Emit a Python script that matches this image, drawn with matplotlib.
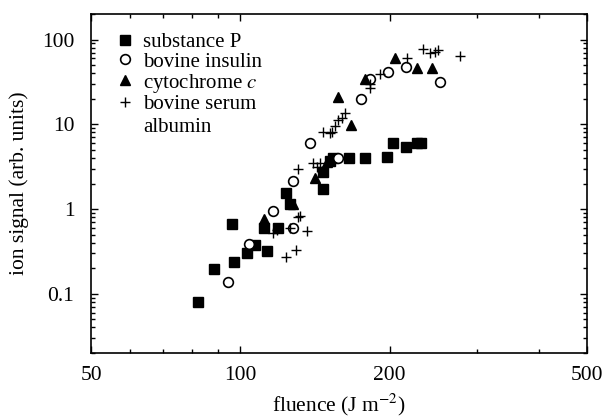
import numpy as np
import matplotlib
matplotlib.use("Agg")
import matplotlib.pyplot as plt
from matplotlib.ticker import LogLocator, NullFormatter, FixedLocator, FixedFormatter

plt.rcParams["font.family"] = ["Liberation Serif", "DejaVu Serif"]
plt.rcParams["mathtext.fontset"] = "stix"

# fluence (J m^-2) vs ion signal (arb. units)
subP_x = [82.2, 88.5, 96.2, 97.1, 103.2, 107.0, 113.0, 111.6, 119.1, 123.6, 125.9,
          146.8, 147.0, 151.7, 153.8, 165.7, 178.4, 197.6, 203.2, 215.8, 227.0, 231.3]
subP_y = [0.079, 0.198, 0.67, 0.239, 0.305, 0.38, 0.32, 0.60, 0.59, 1.56, 1.16,
          1.74, 2.77, 3.73, 4.04, 4.04, 4.0, 4.16, 6.08, 5.45, 6.08, 6.08]

ins_x = [94.5, 104.1, 116.4, 127.7, 127.7, 138.2, 157.3, 175.1, 182.6, 198.5, 215.8, 252.6]
ins_y = [0.139, 0.391, 0.958, 0.60, 2.16, 6.08, 4.04, 20.1, 34.6, 41.9, 48.0, 31.1]

cyt_x = [111.6, 127.7, 141.4, 149.5, 157.3, 167.2, 178.4, 205.1, 227.0, 243.4]
cyt_y = [0.77, 1.16, 2.35, 3.6, 20.7, 9.92, 34.6, 59.7, 45.5, 45.5]

bsa_x = [116.4, 118.6, 123.6, 125.9, 129.5, 132.0, 131.0, 136.3, 130.7, 140.1, 142.7,
         144.9, 146.8, 151.7, 153.0, 155.2, 157.3, 160.0, 162.5, 182.6, 182.6, 191.3,
         216.7, 233.6, 241.3, 247.0, 249.9, 277.3]
bsa_y = [0.526, 0.571, 0.274, 0.60, 0.332, 0.835, 0.80, 0.556, 3.0, 3.53, 3.1,
         3.53, 8.2, 7.8, 8.0, 9.66, 11.1, 12.0, 13.4, 27.1, 30.0, 39.7,
         61.3, 78.3, 70.2, 72.0, 76.0, 64.7]

x_ticks = [50, 100, 200, 500]
y_ticks = [0.1, 1, 10, 100]

fig = plt.figure(figsize=(6.08, 4.19), dpi=100)
ax = fig.add_axes([0.1497, 0.1575, 0.8158, 0.8091])

ax.plot(subP_x, subP_y, "s", color="black", ms=6.5, ls="none", label="substance P")
ax.plot(ins_x, ins_y, "o", mfc="white", mec="black", mew=1.2, ms=7, ls="none",
        label="bovine insulin")
ax.plot(cyt_x, cyt_y, "^", color="black", ms=7.5, ls="none", label="cytochrome $c$")
ax.plot(bsa_x, bsa_y, "+", color="black", mew=1.0, ms=7.5, ls="none",
        label="bovine serum")

ax.set_xscale("log")
ax.set_yscale("log")
ax.set_xlim(50, 500)
ax.set_ylim(0.02, 200)

ax.xaxis.set_major_locator(FixedLocator(x_ticks))
ax.xaxis.set_major_formatter(FixedFormatter([str(v) for v in x_ticks]))
ax.xaxis.set_minor_locator(LogLocator(base=10, subs=np.arange(2, 10)))
ax.xaxis.set_minor_formatter(NullFormatter())
ax.yaxis.set_major_locator(FixedLocator(y_ticks))
ax.yaxis.set_major_formatter(FixedFormatter(["0.1", "1", "10", "100"]))
ax.yaxis.set_minor_locator(LogLocator(base=10, subs=np.arange(2, 10)))
ax.yaxis.set_minor_formatter(NullFormatter())

ax.tick_params(which="both", direction="in", top=True, right=True, labelsize=15.5,
               width=1.0)
ax.tick_params(which="major", length=5)
ax.tick_params(axis="y", which="major", pad=12)
ax.tick_params(axis="x", which="major", pad=9)
ax.tick_params(which="minor", length=3)
for s in ax.spines.values():
    s.set_linewidth(1.2)

ax.set_xlabel("fluence (J m$^{-2}$)", fontsize=15.5, labelpad=5)
ax.set_ylabel("ion signal (arb. units)", fontsize=15.5, labelpad=9)

leg = ax.legend(loc="upper left", bbox_to_anchor=(0.012, 0.995), frameon=False,
                fontsize=15, handletextpad=0.3, labelspacing=0.0, borderpad=0.3,
                handlelength=1.1, numpoints=1)
ax.text(0.105, 0.664, "albumin", transform=ax.transAxes, fontsize=15,
        va="center", ha="left")

fig.savefig("out.png", dpi=100)
